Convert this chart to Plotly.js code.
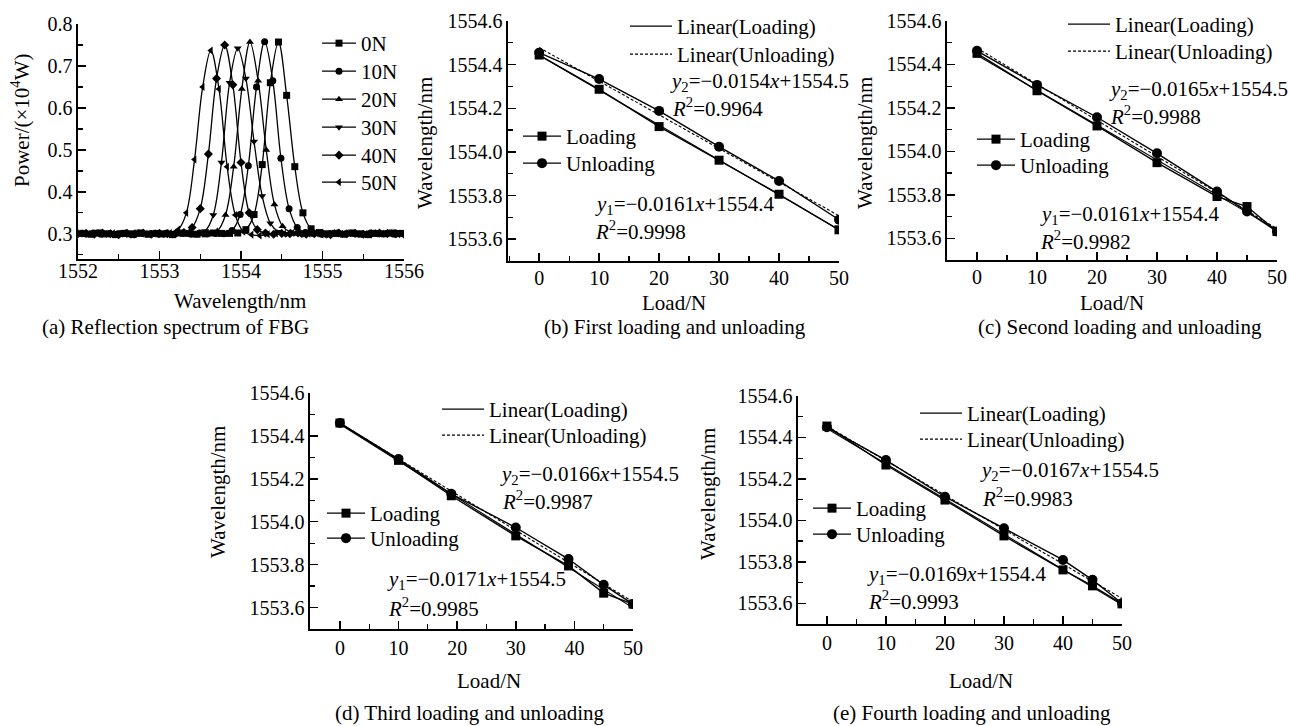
<!DOCTYPE html>
<html><head><meta charset="utf-8">
<script src="https://cdn.plot.ly/plotly-3.0.1.min.js"></script>
<style>html,body{margin:0;padding:0;background:#fff}#plot{width:1289px;height:726px}</style>
</head><body><div id="plot"></div>
<script>
// ---------- Panel (a): reflection spectra ----------
const specNames = ["0N","10N","20N","30N","40N","50N"];
const specSymbols = ["square","circle","triangle-up","triangle-down","diamond","triangle-left"];
const wl0N = [1552.06,1552.16,1552.26,1552.36,1552.46,1552.56,1552.66,1552.76,1552.86,1552.96,1553.06,1553.16,1553.26,1553.36,1553.46,1553.56,1553.66,1553.76,1553.86,1553.96,1554.06,1554.16,1554.26,1554.36,1554.46,1554.56,1554.66,1554.76,1554.86,1554.96,1555.06,1555.16,1555.26,1555.36,1555.46,1555.56,1555.66,1555.76,1555.86,1555.96];
const pw0N = [0.301,0.299,0.302,0.300,0.298,0.301,0.300,0.302,0.299,0.301,0.300,0.298,0.302,0.301,0.299,0.300,0.302,0.301,0.301,0.302,0.310,0.346,0.465,0.660,0.757,0.630,0.460,0.350,0.312,0.303,0.300,0.301,0.299,0.302,0.300,0.298,0.301,0.300,0.302,0.301];
const wl10N = [1552.09,1552.19,1552.29,1552.39,1552.49,1552.59,1552.69,1552.79,1552.89,1552.99,1553.09,1553.19,1553.29,1553.39,1553.49,1553.59,1553.69,1553.79,1553.89,1553.99,1554.09,1554.19,1554.29,1554.39,1554.49,1554.59,1554.69,1554.79,1554.89,1554.99,1555.09,1555.19,1555.29,1555.39,1555.49,1555.59,1555.69,1555.79,1555.89,1555.99];
const pw10N = [0.300,0.302,0.299,0.301,0.300,0.302,0.298,0.301,0.300,0.299,0.302,0.300,0.301,0.299,0.302,0.300,0.301,0.300,0.308,0.346,0.462,0.650,0.758,0.665,0.480,0.360,0.315,0.303,0.301,0.299,0.300,0.302,0.300,0.301,0.299,0.302,0.300,0.301,0.299,0.300];
const wl20N = [1552.01,1552.11,1552.21,1552.31,1552.41,1552.51,1552.61,1552.71,1552.81,1552.91,1553.01,1553.11,1553.21,1553.31,1553.41,1553.51,1553.61,1553.71,1553.81,1553.91,1554.01,1554.11,1554.21,1554.31,1554.41,1554.51,1554.61,1554.71,1554.81,1554.91,1555.01,1555.11,1555.21,1555.31,1555.41,1555.51,1555.61,1555.71,1555.81,1555.91];
const pw20N = [0.299,0.301,0.300,0.302,0.299,0.300,0.301,0.298,0.302,0.300,0.301,0.299,0.300,0.302,0.301,0.299,0.301,0.307,0.345,0.460,0.645,0.757,0.665,0.500,0.370,0.318,0.304,0.300,0.302,0.299,0.301,0.300,0.298,0.301,0.302,0.300,0.299,0.301,0.300,0.302];
const wl30N = [1552.06,1552.16,1552.26,1552.36,1552.46,1552.56,1552.66,1552.76,1552.86,1552.96,1553.06,1553.16,1553.26,1553.36,1553.46,1553.56,1553.66,1553.76,1553.86,1553.96,1554.06,1554.16,1554.26,1554.36,1554.46,1554.56,1554.66,1554.76,1554.86,1554.96,1555.06,1555.16,1555.26,1555.36,1555.46,1555.56,1555.66,1555.76,1555.86,1555.96];
const pw30N = [0.302,0.300,0.299,0.301,0.302,0.300,0.298,0.301,0.300,0.302,0.299,0.301,0.300,0.301,0.300,0.307,0.345,0.470,0.660,0.742,0.670,0.520,0.390,0.325,0.305,0.300,0.302,0.299,0.301,0.300,0.298,0.302,0.300,0.301,0.299,0.300,0.302,0.301,0.299,0.300];
const wl40N = [1552.00,1552.10,1552.20,1552.30,1552.40,1552.50,1552.60,1552.70,1552.80,1552.90,1553.00,1553.10,1553.20,1553.30,1553.40,1553.50,1553.60,1553.70,1553.80,1553.90,1554.00,1554.10,1554.20,1554.30,1554.40,1554.50,1554.60,1554.70,1554.80,1554.90,1555.00,1555.10,1555.20,1555.30,1555.40,1555.50,1555.60,1555.70,1555.80,1555.90,1556.00];
const pw40N = [0.300,0.301,0.299,0.302,0.300,0.298,0.301,0.300,0.302,0.299,0.301,0.300,0.301,0.303,0.315,0.360,0.490,0.670,0.750,0.655,0.470,0.350,0.310,0.302,0.299,0.301,0.300,0.302,0.299,0.300,0.301,0.298,0.302,0.300,0.301,0.299,0.300,0.302,0.301,0.300,0.299];
const wl50N = [1552.03,1552.13,1552.23,1552.33,1552.43,1552.53,1552.63,1552.73,1552.83,1552.93,1553.03,1553.13,1553.23,1553.33,1553.43,1553.53,1553.63,1553.73,1553.83,1553.93,1554.03,1554.13,1554.23,1554.33,1554.43,1554.53,1554.63,1554.73,1554.83,1554.93,1555.03,1555.13,1555.23,1555.33,1555.43,1555.53,1555.63,1555.73,1555.83,1555.93];
const pw50N = [0.301,0.300,0.302,0.299,0.301,0.300,0.298,0.302,0.300,0.301,0.299,0.302,0.310,0.350,0.477,0.650,0.737,0.645,0.460,0.345,0.305,0.298,0.296,0.299,0.301,0.300,0.302,0.299,0.300,0.301,0.298,0.302,0.300,0.301,0.299,0.300,0.302,0.300,0.301,0.299];
const specX = [wl0N, wl10N, wl20N, wl30N, wl40N, wl50N];
const specY = [pw0N, pw10N, pw20N, pw30N, pw40N, pw50N];

// ---------- Panels (b)-(e): load vs wavelength ----------
const loadB = [0,10,20,30,40,50];
const loadingB = [1554.444,1554.287,1554.116,1553.962,1553.806,1553.643];
const unloadingB = [1554.455,1554.334,1554.188,1554.024,1553.867,1553.689];
const loadC = [0,10,20,30,40,45,50];
const loadingC = [1554.451,1554.279,1554.117,1553.948,1553.792,1553.746,1553.631];
const unloadingC = [1554.463,1554.306,1554.157,1553.991,1553.815,1553.723,1553.631];
const loadD = [0,10,19,30,39,45,50];
const loadingD = [1554.460,1554.286,1554.121,1553.934,1553.794,1553.667,1553.616];
const unloadingD = [1554.460,1554.292,1554.130,1553.973,1553.826,1553.706,1553.616];
const loadE = [0,10,20,30,40,45,50];
const loadingE = [1554.455,1554.267,1554.098,1553.925,1553.761,1553.684,1553.597];
const unloadingE = [1554.449,1554.291,1554.114,1553.962,1553.809,1553.713,1553.600];

const eqY2 = ["0.0154x+1554.5","0.0165x+1554.5","0.0166x+1554.5","0.0167x+1554.5"];
const r2Y2 = ["0.9964","0.9988","0.9987","0.9983"];
const eqY1 = ["0.0161x+1554.4","0.0161x+1554.4","0.0171x+1554.5","0.0169x+1554.4"];
const r2Y1 = ["0.9998","0.9982","0.9985","0.9993"];
const captions = ["(a) Reflection spectrum of FBG","(b) First loading and unloading","(c) Second loading and unloading","(d) Third loading and unloading","(e) Fourth loading and unloading"];

// ---------- layout helpers ----------
const W = 1289, H = 726;
const FONT = "Liberation Serif, Times New Roman, serif";
const FS = 20;
const FA = 21;
const px = v => v / W;
const py = v => 1 - v / H;
const xd = (a, b) => [a / W, b / W];
const yd = (t, b) => [1 - b / H, 1 - t / H];

function axisBase(extra) {
  return Object.assign({
    showline: true, linecolor: "black", linewidth: 1.6,
    ticks: "inside", ticklen: 8, tickwidth: 1.5, tickcolor: "black",
    showgrid: false, zeroline: false, mirror: false, fixedrange: true,
    tickfont: {family: FONT, size: FS, color: "black"}
  }, extra);
}

const layout = {
  width: W, height: H, margin: {l: 0, r: 0, t: 0, b: 0},
  paper_bgcolor: "white", plot_bgcolor: "rgba(0,0,0,0)",
  font: {family: FONT, size: FS, color: "black"},
  showlegend: true,
  xaxis: axisBase({domain: xd(78, 404), range: [1552, 1556], dtick: 1, anchor: "y", ticklabelstandoff: -7,
    minor: {dtick: 0.5, ticks: "inside", ticklen: 5, tickwidth: 1.3, tickcolor: "black"}}),
  yaxis: axisBase({domain: yd(24, 259), range: [0.24, 0.8], dtick: 0.1, tickformat: ".1f", anchor: "x",
    minor: {dtick: 0.05, ticks: "inside", ticklen: 5, tickwidth: 1.3, tickcolor: "black"}}),
  annotations: [],
};

// one legend per entry, so each row sits where the reference puts it
let legendCount = 0;
function newLegend(sampleStart, rowCenter, itemW) {
  legendCount++;
  const id = legendCount === 1 ? "legend" : "legend" + legendCount;
  layout[id] = {x: px(sampleStart - 5), y: py(rowCenter - 19), xanchor: "left", yanchor: "top",
    bgcolor: "rgba(0,0,0,0)", borderwidth: 0, itemwidth: itemW, tracegroupgap: 0,
    font: {family: FONT, size: FA, color: "black"}, itemclick: false, itemdoubleclick: false};
  return id;
}

const traces = [];
const specRows = [42, 70, 98, 126, 154, 181];
for (let i = 0; i < specNames.length; i++) {
  traces.push({
    x: specX[i], y: specY[i], xaxis: "x", yaxis: "y", type: "scatter",
    mode: "lines+markers", name: specNames[i], legend: newLegend(322, specRows[i], 34),
    line: {shape: "spline", color: "black", width: 1.3},
    marker: {symbol: specSymbols[i], size: 7, color: "black"}
  });
}

function linFit(xs, ys) {
  const n = xs.length;
  let sx = 0, sy = 0, sxx = 0, sxy = 0;
  for (let i = 0; i < n; i++) { sx += xs[i]; sy += ys[i]; sxx += xs[i]*xs[i]; sxy += xs[i]*ys[i]; }
  const m = (n*sxy - sx*sy) / (n*sxx - sx*sx);
  const b = (sy - m*sx) / n;
  return {m, b};
}

const panels = [
  {ax: 2, x: loadB, l: loadingB, u: unloadingB, linesAt: [630, 25, 53], marksAt: [523, 135, 162]},
  {ax: 3, x: loadC, l: loadingC, u: unloadingC, linesAt: [1068, 23, 50], marksAt: [977, 138, 164]},
  {ax: 4, x: loadD, l: loadingD, u: unloadingD, linesAt: [442, 408, 434], marksAt: [327, 512, 537]},
  {ax: 5, x: loadE, l: loadingE, u: unloadingE, linesAt: [920, 412, 438], marksAt: [813, 507, 533]}
];
panels.forEach(p => {
  const xa = "x" + p.ax, ya = "y" + p.ax;
  const fl = linFit(p.x, p.l), fu = linFit(p.x, p.u);
  const xe = [p.x[0], p.x[p.x.length - 1]];
  traces.push({x: xe, y: xe.map(v => fl.m*v + fl.b), xaxis: xa, yaxis: ya, mode: "lines",
    name: "Linear(Loading)", legend: newLegend(p.linesAt[0], p.linesAt[1], 42),
    line: {color: "black", width: 1.1}});
  traces.push({x: xe, y: xe.map(v => fu.m*v + fu.b), xaxis: xa, yaxis: ya, mode: "lines",
    name: "Linear(Unloading)", legend: newLegend(p.linesAt[0], p.linesAt[2], 42),
    line: {color: "black", width: 1.1, dash: "3px,2px"}});
  traces.push({x: p.x, y: p.l, xaxis: xa, yaxis: ya, mode: "lines+markers", name: "Loading",
    legend: newLegend(p.marksAt[0], p.marksAt[1], 38),
    line: {color: "black", width: 1.4}, marker: {symbol: "square", size: 9, color: "black"}});
  traces.push({x: p.x, y: p.u, xaxis: xa, yaxis: ya, mode: "lines+markers", name: "Unloading",
    legend: newLegend(p.marksAt[0], p.marksAt[2], 38),
    line: {color: "black", width: 1.4}, marker: {symbol: "circle", size: 10, color: "black"}});
});

const boxes = {
  2: {x: [508, 839], xr: [-5.2, 50], y: [21, 261], so: -2},
  3: {x: [947, 1277], xr: [-5, 50], y: [21, 260], so: -2},
  4: {x: [310, 633], xr: [-5.1, 50], y: [393, 629], so: 0},
  5: {x: [798, 1122], xr: [-4.9, 50], y: [396, 624], so: 0}
};
Object.keys(boxes).forEach(k => {
  const b = boxes[k];
  layout["xaxis" + k] = axisBase({domain: xd(b.x[0], b.x[1]), range: b.xr, dtick: 10, tick0: 0, anchor: "y" + k,
    ticklabelstandoff: b.so,
    minor: {dtick: 5, ticks: "inside", ticklen: 5, tickwidth: 1.3, tickcolor: "black"}});
  layout["yaxis" + k] = axisBase({domain: yd(b.y[0], b.y[1]), range: [1553.5, 1554.6], dtick: 0.2, tick0: 1553.6,
    tickformat: ".1f", anchor: "x" + k,
    minor: {dtick: 0.1, ticks: "inside", ticklen: 5, tickwidth: 1.3, tickcolor: "black"}});
});

function ann(text, x, y, opts) {
  layout.annotations.push(Object.assign({text, x: px(x), y: py(y), xref: "paper", yref: "paper",
    showarrow: false, xanchor: "center", yanchor: "middle",
    font: {family: FONT, size: FA, color: "black"}}, opts || {}));
}
// axis titles
ann("Power/(×10<sup>4</sup>W)", 20, 120, {textangle: -90});
ann("Wavelength/nm", 240, 301);
ann("Wavelength/nm", 425, 143, {textangle: -90});
ann("Load/N", 674, 303);
ann("Wavelength/nm", 865, 143, {textangle: -90});
ann("Load/N", 1112, 303);
ann("Wavelength/nm", 218, 492, {textangle: -90});
ann("Load/N", 489, 681);
ann("Wavelength/nm", 708, 494, {textangle: -90});
ann("Load/N", 981, 681);
// captions
const capPos = [[175, 327], [675, 327], [1120, 327], [470, 713], [972, 713]];
captions.forEach((c, i) => ann(c, capPos[i][0], capPos[i][1]));
// equations
const eqPos = [
  {y2: [668, 82], r2: [670, 107], y1: [593, 205], r1: [593, 230]},
  {y2: [1107, 90], r2: [1108, 115], y1: [1038, 215], r1: [1038, 240]},
  {y2: [498, 475], r2: [500, 500], y1: [385, 580], r1: [386, 607]},
  {y2: [978, 471], r2: [980, 497], y1: [865, 575], r1: [866, 600]}
];
const fmtEq = s => s.replace("x", "<i>x</i>");
eqPos.forEach((p, i) => {
  ann("<i>y</i><sub>2</sub>=−" + fmtEq(eqY2[i]), p.y2[0], p.y2[1], {xanchor: "left"});
  ann("<i>R</i><sup>2</sup>=" + r2Y2[i], p.r2[0], p.r2[1], {xanchor: "left"});
  ann("<i>y</i><sub>1</sub>=−" + fmtEq(eqY1[i]), p.y1[0], p.y1[1], {xanchor: "left"});
  ann("<i>R</i><sup>2</sup>=" + r2Y1[i], p.r1[0], p.r1[1], {xanchor: "left"});
});

Plotly.newPlot("plot", traces, layout, {displayModeBar: false, staticPlot: true});
</script>
</body></html>
